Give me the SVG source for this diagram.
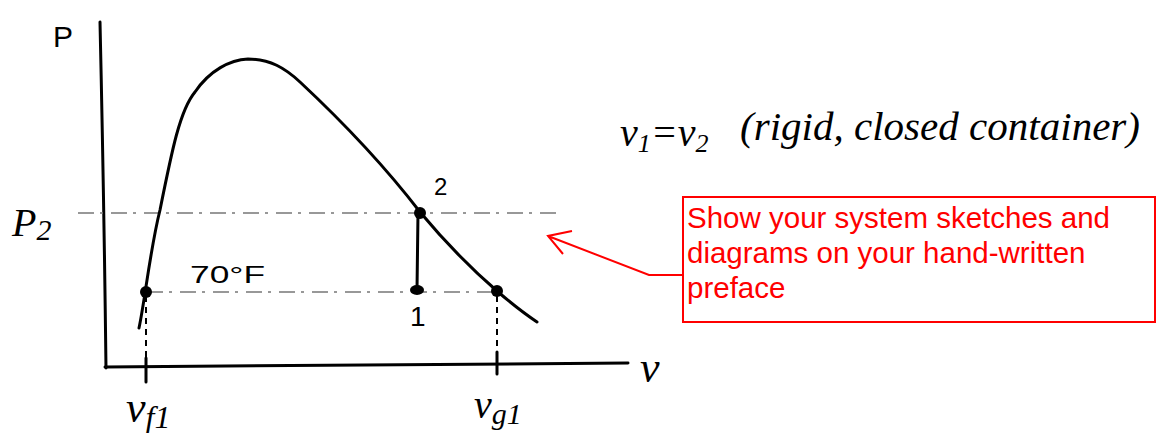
<svg xmlns="http://www.w3.org/2000/svg" width="1157" height="433" viewBox="0 0 1157 433">
<style>
.ink{fill:none;stroke:#000;stroke-width:3;stroke-linecap:round;stroke-linejoin:round}
.dash{fill:none;stroke:#777;stroke-width:1.5;stroke-dasharray:16 6 3 8}
.vdash{fill:none;stroke:#000;stroke-width:2;stroke-dasharray:6 5}
.dot{fill:#000}
.hw{font-family:"Liberation Serif",serif;font-style:italic;fill:#000}
.hu{font-family:"Liberation Sans",sans-serif;fill:#000}
.red{fill:none;stroke:#ff0000;stroke-width:2}
.note{font-family:"Liberation Sans",Arial,sans-serif;font-size:29.5px;fill:#ff0000}
</style>
<rect width="1157" height="433" fill="#fff"/>
<g id="axes">
<path class="ink" d="M100 22 Q104 200 106 368"/>
<path class="ink" d="M105 367 L628 363"/>
<path class="ink" d="M146 358 L146 382"/>
<path class="ink" d="M497 352 L497 374"/>
<text class="hu" x="53" y="47" font-size="30">P</text>
<text class="hw" x="12" y="236" font-size="40">P<tspan font-size="30" dy="4">2</tspan></text>
<text class="hw" x="640" y="382" font-size="44">v</text>
<text class="hw" x="126" y="422" font-size="44">v<tspan font-size="32" dy="6">f1</tspan></text>
<text class="hw" x="474" y="418" font-size="40">v<tspan font-size="30" dy="6">g1</tspan></text>
</g>
<g id="guides">
<path class="dash" d="M78 213 L560 213"/>
<path class="dash" d="M147 292 L500 292"/>
<path class="vdash" d="M146 296 L146 358"/>
<path class="vdash" d="M497 296 L497 352"/>
<text class="hu" x="190" y="283" font-size="24" textLength="75" lengthAdjust="spacingAndGlyphs">70°F</text>
</g>
<g id="dome">
<path class="ink" d="M139 328 C145 300 150 250 160 210 C172 150 180 110 195 92 C210 70 230 60 248 59 C270 59 285 68 300 82 C330 110 380 160 420 212 C445 242 475 272 497 291 C512 304 525 314 537 322"/>
</g>
<g id="state2">
<circle class="dot" cx="420" cy="213" r="6"/>
<text class="hu" x="434" y="195" font-size="24">2</text>
</g>
<g id="state1">
<ellipse class="dot" cx="417" cy="290" rx="7" ry="5"/>
<text class="hu" x="410" y="326" font-size="28">1</text>
</g>
<g id="sat-f"><circle class="dot" cx="146" cy="292" r="6"/></g>
<g id="sat-g"><circle class="dot" cx="497" cy="291" r="6"/></g>
<g id="connectors">
<path class="ink" d="M418 213 L417 290"/>
</g>
<g id="note-text">
<text class="hw" x="620" y="146" font-size="40">v<tspan font-size="26" dy="6">1</tspan><tspan dy="-6">=v</tspan><tspan font-size="26" dy="6">2</tspan></text>
<text class="hw" x="740" y="140" font-size="40" textLength="400" lengthAdjust="spacingAndGlyphs">(rigid, closed container)</text>
</g>
<g id="callout">
<rect class="red" x="683" y="197" width="472" height="125"/>
<text class="note" x="687" y="228">Show your system sketches and</text>
<text class="note" x="687" y="263">diagrams on your hand-written</text>
<text class="note" x="687" y="298">preface</text>
<path class="red" d="M683 275 L649 275 L548 236 M572 231 L548 236 L563 254"/>
</g>
</svg>
